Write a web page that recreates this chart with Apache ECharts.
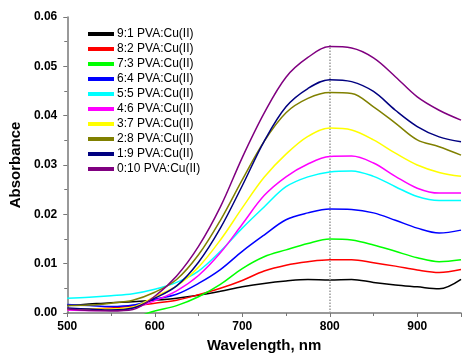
<!DOCTYPE html>
<html>
<head>
<meta charset="utf-8">
<script src="https://cdn.jsdelivr.net/npm/echarts@6/dist/echarts.min.js"></script>
<style>
  html, body { margin: 0; padding: 0; background: #fff; }
  #chart { width: 462px; height: 358px; }
</style>
</head>
<body>
<div id="chart"></div>
<script>
// wavelength (nm)
const wavelengths = [500, 525, 550, 575, 600, 625, 650, 675, 700, 725, 750, 775, 800, 825, 850, 875, 900, 925, 950]

// absorbance per PVA:Cu(II) ratio
const r9_1 = [0.0015, 0.0018, 0.0021, 0.0023, 0.0026, 0.0030, 0.0036, 0.0044, 0.0053, 0.0060, 0.0065, 0.0068, 0.0067, 0.0068, 0.0062, 0.0057, 0.0053, 0.0049, 0.0068]
const r8_2 = [0.0007, 0.0008, 0.0010, 0.0014, 0.0020, 0.0026, 0.0037, 0.0050, 0.0066, 0.0085, 0.0097, 0.0104, 0.0108, 0.0108, 0.0102, 0.0095, 0.0087, 0.0082, 0.0088]
const r7_3 = [-0.004, -0.003, -0.002, -0.001, 0.0004, 0.0015, 0.0033, 0.0058, 0.0090, 0.0114, 0.0128, 0.0141, 0.0150, 0.0148, 0.0138, 0.0125, 0.0112, 0.0104, 0.0108]
const r6_4 = [0.0017, 0.0015, 0.0013, 0.0016, 0.0028, 0.0038, 0.0060, 0.0088, 0.0125, 0.0158, 0.0189, 0.0203, 0.0211, 0.0210, 0.0203, 0.0188, 0.0172, 0.0162, 0.0168]
const r5_5 = [0.0030, 0.0032, 0.0035, 0.0039, 0.0048, 0.0062, 0.0085, 0.0125, 0.0172, 0.0215, 0.0256, 0.0276, 0.0286, 0.0288, 0.0277, 0.0256, 0.0236, 0.0228, 0.0228]
const r4_6 = [0.0006, 0.0005, 0.0006, 0.0010, 0.0025, 0.0045, 0.0076, 0.0122, 0.0180, 0.0238, 0.0276, 0.0302, 0.0317, 0.0318, 0.0304, 0.0277, 0.0253, 0.0243, 0.0243]
const r3_7 = [0.0008, 0.0008, 0.0008, 0.0012, 0.0033, 0.0055, 0.0093, 0.0148, 0.0213, 0.0275, 0.0322, 0.0358, 0.0375, 0.0371, 0.0351, 0.0324, 0.0300, 0.0285, 0.0277]
const r2_8 = [0.0015, 0.0016, 0.0020, 0.0026, 0.0042, 0.0068, 0.0118, 0.0188, 0.0270, 0.0348, 0.0406, 0.0435, 0.0447, 0.0445, 0.0418, 0.0385, 0.0351, 0.0337, 0.0320]
const r1_9 = [0.0010, 0.0008, 0.0006, 0.0010, 0.0030, 0.0055, 0.0103, 0.0172, 0.0258, 0.0348, 0.0418, 0.0455, 0.0473, 0.0469, 0.0449, 0.0411, 0.0378, 0.0357, 0.0347]
const r0_10 = [0.0008, 0.0005, 0.0004, 0.0007, 0.0034, 0.0075, 0.0135, 0.0215, 0.0315, 0.0405, 0.0478, 0.0518, 0.0540, 0.0537, 0.0517, 0.0479, 0.0438, 0.0411, 0.0391]

const seriesNames = ['9:1 PVA:Cu(II)', '8:2 PVA:Cu(II)', '7:3 PVA:Cu(II)', '6:4 PVA:Cu(II)', '5:5 PVA:Cu(II)',
  '4:6 PVA:Cu(II)', '3:7 PVA:Cu(II)', '2:8 PVA:Cu(II)', '1:9 PVA:Cu(II)', '0:10 PVA:Cu(II)']
const seriesData = [r9_1, r8_2, r7_3, r6_4, r5_5, r4_6, r3_7, r2_8, r1_9, r0_10]
const colors = ['#000000', '#ff0000', '#00ff00', '#0000ff', '#00ffff', '#ff00ff', '#ffff00', '#808000', '#000080', '#800080']

const markX = 800
const markTop = 0.0543

let myChart = echarts.init(document.getElementById('chart'))

let series = seriesNames.map((name, i) => {
  let s = {
    name: name,
    type: 'line',
    data: wavelengths.map((w, j) => [w, seriesData[i][j]]),
    smooth: 0.35,
    showSymbol: false,
    symbol: 'none',
    clip: true,
    lineStyle: { width: 1.5, color: colors[i] },
    itemStyle: { color: colors[i] },
    z: 2 + i
  }
  if (i === 0) {
    // dotted line at 800 nm
    s.markLine = {
      silent: true,
      symbol: ['none', 'none'],
      label: { show: false },
      lineStyle: { color: '#999', type: 'dotted', width: 1.5 },
      data: [[{ coord: [markX, 0] }, { coord: [markX, markTop] }]]
    }
  }
  return s
})

let axisText = {
  color: '#000',
  fontFamily: 'Liberation Sans',
  fontWeight: 'bold',
  fontSize: 12
}

let option = {
  animation: false,
  color: colors,
  grid: { left: 61, right: 1, top: 17, bottom: 45 },
  legend: {
    orient: 'vertical',
    left: 88,
    top: 28,
    padding: 0,
    icon: 'rect',
    itemWidth: 26,
    itemHeight: 4,
    itemGap: 3,
    textStyle: { color: '#000', fontFamily: 'Liberation Sans', fontSize: 12, padding: [0, 0, 0, -2] },
    data: seriesNames
  },
  xAxis: {
    type: 'value',
    min: 500,
    max: 950,
    interval: 100,
    name: 'Wavelength, nm',
    nameLocation: 'middle',
    nameGap: 25,
    nameTextStyle: { color: '#000', fontFamily: 'Liberation Sans', fontWeight: 'bold', fontSize: 15 },
    axisLine: { show: true, lineStyle: { color: '#777', width: 1.5 } },
    axisTick: { show: true, inside: false, length: 4, lineStyle: { color: '#777', width: 1 } },
    minorTick: { show: true, splitNumber: 2, length: 3, lineStyle: { color: '#777', width: 1 } },
    axisLabel: Object.assign({ margin: 8, showMaxLabel: false }, axisText),
    splitLine: { show: false }
  },
  yAxis: {
    type: 'value',
    min: 0,
    max: 0.06,
    interval: 0.01,
    name: 'Absorbance',
    nameLocation: 'middle',
    nameGap: 30,
    nameTextStyle: { color: '#000', fontFamily: 'Liberation Sans', fontWeight: 'bold', fontSize: 15 },
    axisLine: { show: true, lineStyle: { color: '#777', width: 1.5 } },
    axisTick: { show: true, inside: false, length: 4, lineStyle: { color: '#777', width: 1 } },
    minorTick: { show: true, splitNumber: 2, length: 3, lineStyle: { color: '#777', width: 1 } },
    axisLabel: Object.assign({ margin: 10, formatter: v => v.toFixed(2) }, axisText),
    splitLine: { show: false }
  },
  series: series
}

myChart.clear()
myChart.setOption(option, true)
</script>
</body>
</html>
